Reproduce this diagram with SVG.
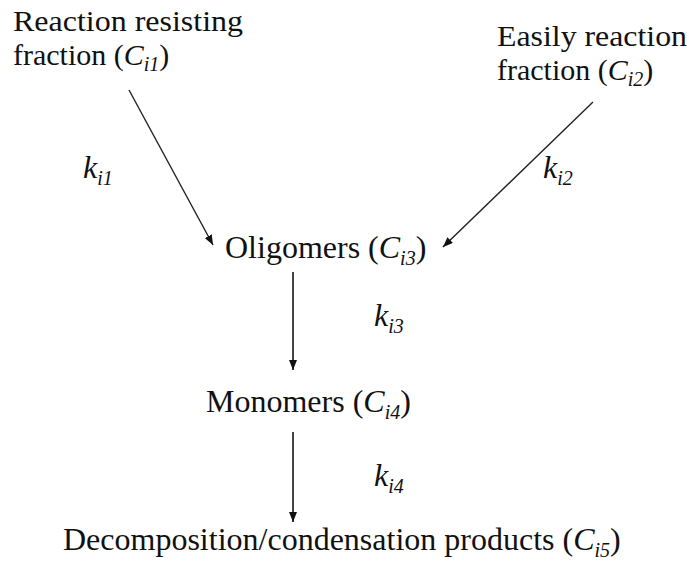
<svg xmlns="http://www.w3.org/2000/svg" width="689" height="579" viewBox="0 0 689 579" font-family="'Liberation Serif', 'DejaVu Serif', serif">
<defs>
<style>
text{font-family:'Liberation Serif','DejaVu Serif',serif;font-size:32px;fill:#111;}
text.two{font-size:30px;}
.it{font-style:italic;}
.sub{font-style:italic;font-size:20px;}
.conn line{stroke:#222;stroke-width:1.4;fill:none;}
.conn line.v{stroke:#444;stroke-width:2;}
</style>
<marker id="ah" viewBox="0 0 10 8" refX="10" refY="4" markerWidth="10" markerHeight="8" markerUnits="userSpaceOnUse" orient="auto">
<path d="M0,0 L10,4 L0,8 z" fill="#111"/>
</marker>
</defs>
<rect width="689" height="579" fill="#fff"/>
<g id="c1">
<text class="two" x="13" y="31" textLength="230" lengthAdjust="spacingAndGlyphs">Reaction resisting</text>
<text class="two" x="13" y="65">fraction (<tspan class="it">C</tspan><tspan class="sub" dy="6">i1</tspan><tspan dy="-6">)</tspan></text>
</g>
<g id="c2">
<text class="two" x="497" y="46" textLength="190" lengthAdjust="spacingAndGlyphs">Easily reaction</text>
<text class="two" x="497" y="80">fraction (<tspan class="it">C</tspan><tspan class="sub" dy="6">i2</tspan><tspan dy="-6">)</tspan></text>
</g>
<g id="c3">
<text x="225" y="258">Oligomers (<tspan class="it">C</tspan><tspan class="sub" dy="7">i3</tspan><tspan dy="-7">)</tspan></text>
</g>
<g id="c4">
<text x="206" y="412">Monomers (<tspan class="it">C</tspan><tspan class="sub" dy="7">i4</tspan><tspan dy="-7">)</tspan></text>
</g>
<g id="c5">
<text x="63" y="550">Decomposition/condensation products (<tspan class="it">C</tspan><tspan class="sub" dy="7">i5</tspan><tspan dy="-7">)</tspan></text>
</g>
<g id="connectors" class="conn">
<line x1="129" y1="90" x2="213" y2="245" marker-end="url(#ah)"/>
<line x1="593" y1="102" x2="443" y2="247" marker-end="url(#ah)"/>
<line class="v" x1="293" y1="272" x2="293" y2="370" marker-end="url(#ah)"/>
<line class="v" x1="293" y1="432" x2="293" y2="522" marker-end="url(#ah)"/>
</g>
<g id="labels">
<text x="83" y="178" class="it">k<tspan class="sub" dy="7">i1</tspan></text>
<text x="543" y="178" class="it">k<tspan class="sub" dy="7">i2</tspan></text>
<text x="374" y="326" class="it">k<tspan class="sub" dy="7">i3</tspan></text>
<text x="374" y="486" class="it">k<tspan class="sub" dy="7">i4</tspan></text>
</g>
</svg>
